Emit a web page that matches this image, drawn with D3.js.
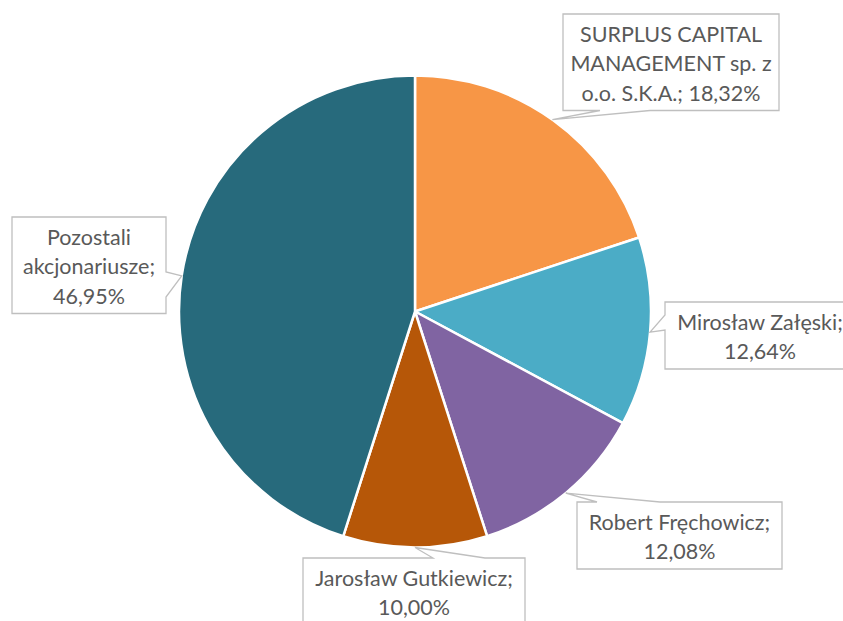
<!DOCTYPE html>
<html><head><meta charset="utf-8">
<script src="https://cdn.jsdelivr.net/npm/d3@7"></script>
<style>body{margin:0;background:#fff}svg{display:block}</style>
</head><body>
<svg id="c" width="843" height="621"></svg>
<script>
const categories = ["SURPLUS CAPITAL MANAGEMENT sp. z o.o. S.K.A.", "Mirosław Załęski", "Robert Fręchowicz", "Jarosław Gutkiewicz", "Pozostali akcjonariusze"];
// slice sizes as drawn in the picture
const values = [19.92, 12.92, 12.22, 9.86, 45.08];
// data label texts as printed
const valueLabels = ["18,32%", "12,64%", "12,08%", "10,00%", "46,95%"];
const labelLines = [
  ["SURPLUS CAPITAL", "MANAGEMENT sp. z", "o.o. S.K.A.; 18,32%"],
  ["Mirosław Załęski;", "12,64%"],
  ["Robert Fręchowicz;", "12,08%"],
  ["Jarosław Gutkiewicz;", "10,00%"],
  ["Pozostali", "akcjonariusze;", "46,95%"]
];
const colors = ["#F79646", "#4BACC6", "#8064A2", "#B65708", "#276A7C"];

// label box layout: box left/top/width, pointer side and base, pointer angle (deg from top)
const boxes = [
  {x: 563, y: 14, w: 216, side: "bottom", b0: 600, b1: 650, ang: 35.6},
  {x: 665, y: 302, w: 190, side: "left", b0: 315, b1: 330, ang: 95},
  {x: 577, y: 502, w: 205, side: "top", b0: 597, b1: 660, ang: 140.3},
  {x: 303, y: 558, w: 222, side: "top", b0: 433, b1: 485, ang: 180},
  {x: 12, y: 217, w: 154, side: "right", b0: 272, b1: 297, ang: 278.7}
];

const svg = d3.select("#c");
const cx = 415, cy = 311.5, R = 236;
const g = svg.append("g").attr("transform", `translate(${cx},${cy})`);
const pie = d3.pie().sort(null).value(d => d)(values);
const arc = d3.arc().innerRadius(0).outerRadius(R);
g.selectAll("path.slice").data(pie).join("path")
  .attr("class", "slice")
  .attr("d", arc)
  .attr("fill", (d, i) => colors[i])
  .attr("stroke", "#fff").attr("stroke-width", 2.5).attr("stroke-linejoin", "round");

const lineH = 29.5, firstBase = 27.5, padBottom = 10;
boxes.forEach((b, i) => {
  const lines = labelLines[i];
  const h = firstBase + (lines.length - 1) * lineH + padBottom;
  const a = b.ang * Math.PI / 180;
  const tx = cx + R * Math.sin(a), ty = cy - R * Math.cos(a);
  const x0 = b.x, y0 = b.y, x1 = b.x + b.w, y1 = b.y + h;
  let pts;
  if (b.side === "bottom") pts = [[x0,y0],[x1,y0],[x1,y1],[b.b1,y1],[tx,ty],[b.b0,y1],[x0,y1]];
  else if (b.side === "top") pts = [[x0,y0],[b.b0,y0],[tx,ty],[b.b1,y0],[x1,y0],[x1,y1],[x0,y1]];
  else if (b.side === "left") pts = [[x0,y0],[x1,y0],[x1,y1],[x0,y1],[x0,b.b1],[tx,ty],[x0,b.b0]];
  else pts = [[x0,y0],[x1,y0],[x1,b.b0],[tx,ty],[x1,b.b1],[x1,y1],[x0,y1]];
  svg.append("path").attr("d", d3.line()(pts) + "Z")
    .attr("fill", "#fff").attr("stroke", "#BFBFBF").attr("stroke-width", 1.3);
  const t = svg.append("text").attr("text-anchor", "middle")
    .attr("font-family", "Lato, 'Open Sans', sans-serif").attr("font-size", 21.5).attr("fill", "#595959");
  lines.forEach((l, k) => t.append("tspan").attr("x", b.x + b.w / 2).attr("y", b.y + firstBase + k * lineH).text(l));
});
</script>
</body></html>
